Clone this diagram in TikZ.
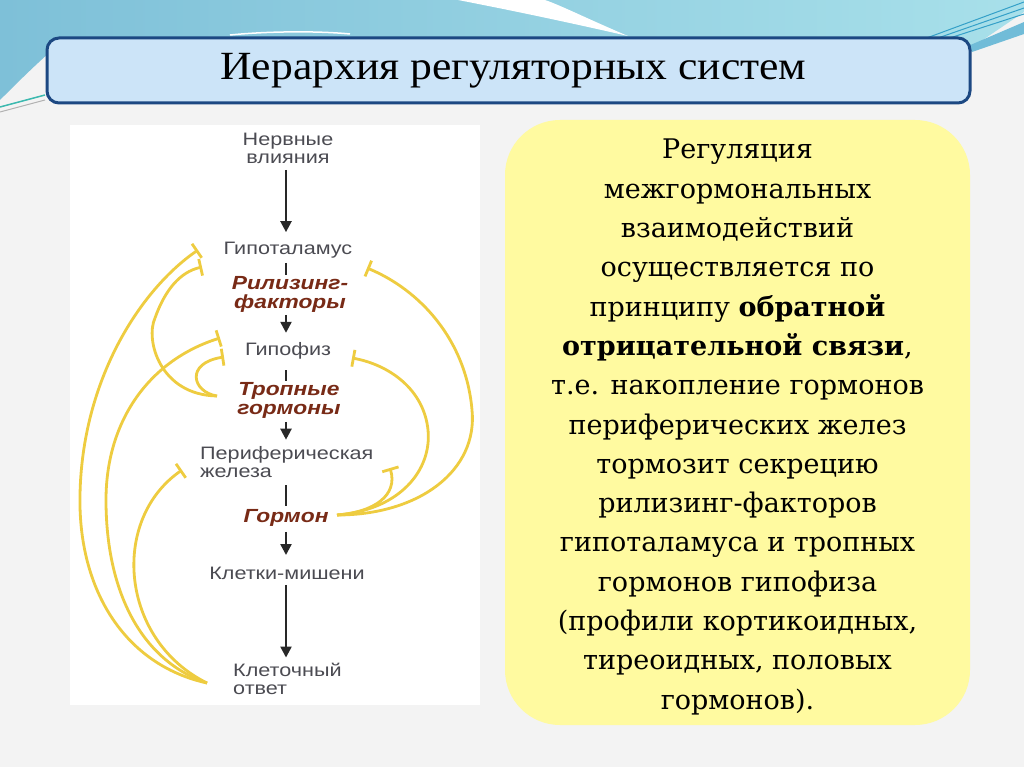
\documentclass[tikz,border=0pt]{standalone}
\usepackage{fontspec}
\setmainfont{Liberation Serif}
\newfontfamily\ttl[FakeStretch=1.09]{Liberation Serif}
\newfontfamily\dg[FakeStretch=1.2]{Liberation Sans}
\newfontfamily\yb{DejaVu Serif}
\usetikzlibrary{arrows.meta,calc}
\definecolor{titlefill}{RGB}{204,228,248}
\definecolor{titledraw}{RGB}{28,72,130}
\definecolor{yboxfill}{RGB}{255,250,160}
\definecolor{fbk}{RGB}{238,204,64}
\definecolor{lblgray}{RGB}{75,75,82}
\definecolor{redlbl}{RGB}{120,42,22}
\definecolor{arrowc}{RGB}{40,40,40}
\definecolor{bgpage}{RGB}{243,243,243}
\definecolor{waveA}{RGB}{126,192,216}
\definecolor{waveB}{RGB}{168,224,234}
\definecolor{tealline}{RGB}{52,160,200}
\definecolor{greenline}{RGB}{60,185,175}
\tikzset{
 lbl/.style={font=\dg\fontsize{18}{18}\selectfont, text=lblgray, inner sep=0pt, align=center},
 rlbl/.style={font=\dg\bfseries\itshape\fontsize{19}{19}\selectfont, text=redlbl, inner sep=0pt, align=center},
 blk/.style={draw=arrowc, line width=2.3pt, -{Triangle[width=11pt,length=11pt]}},
 blkline/.style={draw=arrowc, line width=2.3pt},
 fb/.style={draw=fbk, line width=2.8pt, -{Bar[width=17pt,line width=2.8pt]}},
}
\begin{document}
\begin{tikzpicture}[x=1pt,y=-1pt]
\useasboundingbox (0,0) rectangle (1024,767);
\fill[bgpage] (0,0) rectangle (1024,767);
% top decoration
\shade[left color=waveA,right color=waveB] (0,0) -- (1024,0) -- (1024,12) -- (965,52) -- (50,52) .. controls (30,70) and (15,85) .. (0,100) -- cycle;
\fill[white] (458,0) .. controls (520,12) and (580,25) .. (628,36) .. controls (590,20) and (560,5) .. (545,0) -- cycle;
\draw[white, line width=1.5pt] (230,35) .. controls (270,31) and (320,31) .. (350,34);
\fill[tealline!70] (968,46) -- (1024,22) -- (1024,34) -- (972,52) -- cycle;
\draw[tealline, line width=1pt] (905,46) -- (1024,2);
\draw[tealline, line width=1pt] (915,46) -- (1024,8);
\draw[tealline, line width=1pt] (925,46) -- (1024,14);
\draw[greenline, line width=1.5pt] (0,107) -- (45,95);
\draw[gray!60, line width=1pt] (0,112) -- (45,100);
% left panel
\fill[white] (70,125) rectangle (480,705);
% title
\node[draw=titledraw, line width=3pt, fill=titlefill, rounded corners=12pt, minimum width=923pt, minimum height=65pt, inner sep=0pt] (title) at (508.5,70.5) {};
\node[inner sep=0pt, font=\ttl\fontsize{40}{48}\selectfont] (titletext) at (513.5,70.5) {Иерархия регуляторных систем};
% yellow box
\node[fill=yboxfill, rounded corners=55pt, minimum width=465pt, minimum height=605pt, inner sep=0pt] (ybox) at (737.5,422.5) {};
\node[align=center, inner sep=0pt, font=\yb\fontsize{27}{39.3}\selectfont] (ytext) at (737.5,427) {Регуляция\\
межгормональных\\
взаимодействий\\
осуществляется по\\
принципу \textbf{обратной}\\
\textbf{отрицательной связи},\\
т.е. накопление гормонов\\
периферических желез\\
тормозит секрецию\\
рилизинг-факторов\\
гипоталамуса и тропных\\
гормонов гипофиза\\
(профили кортикоидных,\\
тиреоидных, половых\\
гормонов).};
% diagram nodes
\coordinate (ax) at (286,0);
\node[lbl] (nerv) at (288,148) {Нервные\\влияния};
\node[lbl] (hyp) at (288,250) {Гипоталамус};
\node[rlbl] (ril) at (290,294) {Рилизинг-\\факторы};
\node[lbl] (gip) at (288,351) {Гипофиз};
\node[rlbl] (trop) at (289,400) {Тропные\\гормоны};
\node[lbl, anchor=west, align=left] (per) at (200,462) {Периферическая\\железа};
\node[rlbl] (gorm) at (286,518) {Гормон};
\node[lbl] (klm) at (287,573) {Клетки-мишени};
\node[lbl, anchor=west, align=left] (klo) at (233,679) {Клеточный\\ответ};
% main chain
\draw[blk, shorten <=6.5pt, shorten >=9.6pt] (nerv.south -| ax) -- (hyp.north -| ax);
\draw[blkline, shorten <=4.6pt, shorten >=0.7pt] (hyp.south -| ax) -- (ril.north -| ax);
\draw[blk, shorten <=2.7pt, shorten >=9.6pt] (ril.south -| ax) -- (gip.north -| ax);
\draw[blkline, shorten <=10.6pt, shorten >=0.3pt] (gip.south -| ax) -- (trop.north -| ax);
\draw[blk, shorten <=3.7pt, shorten >=6.5pt] (trop.south -| ax) -- (per.north -| ax);
\draw[blkline, shorten <=7.5pt, shorten >=3.2pt] (per.south -| ax) -- (gorm.north -| ax);
\draw[blk, shorten <=5.2pt, shorten >=11.5pt] (gorm.south -| ax) -- (klm.north -| ax);
\draw[blk, shorten <=5.5pt, shorten >=5.5pt] (klm.south -| ax) -- (klo.north -| ax);
% feedback end points
\coordinate (kloF) at (207,683);
\coordinate (hypL1) at (198,250);
\coordinate (hypL2) at (202,267);
\coordinate (gipL1) at (220,338);
\coordinate (gipL2) at (224,357);
\coordinate (tropL) at (217,396);
\coordinate (perL) at (182,470);
\coordinate (gormR) at (337,515);
\coordinate (hypR) at (367,268);
\coordinate (gipR) at (352,358);
\coordinate (perR) at (390,468);
% feedback curves
\draw[fb] (kloF) .. controls (125,665) and (78,590) .. (80,495) .. controls (82,380) and (140,290) .. (hypL1);
\draw[fb] (kloF) .. controls (140,660) and (106,590) .. (106,500) .. controls (106,420) and (150,360) .. (gipL1);
\draw[fb] (kloF) .. controls (120,640) and (110,520) .. (perL);
\draw[fb] (tropL) .. controls (160,395) and (145,340) .. (155,318) .. controls (165,290) and (180,272) .. (hypL2);
\draw[fb] (tropL) .. controls (192,392) and (185,363) .. (gipL2);
\draw[fb] (gormR) .. controls (420,515) and (478,470) .. (472,410) .. controls (466,340) and (420,290) .. (hypR);
\draw[fb] (gormR) .. controls (400,510) and (432,470) .. (428,430) .. controls (424,390) and (390,365) .. (gipR);
\draw[fb] (gormR) .. controls (375,512) and (398,495) .. (perR);
\end{tikzpicture}
\end{document}
